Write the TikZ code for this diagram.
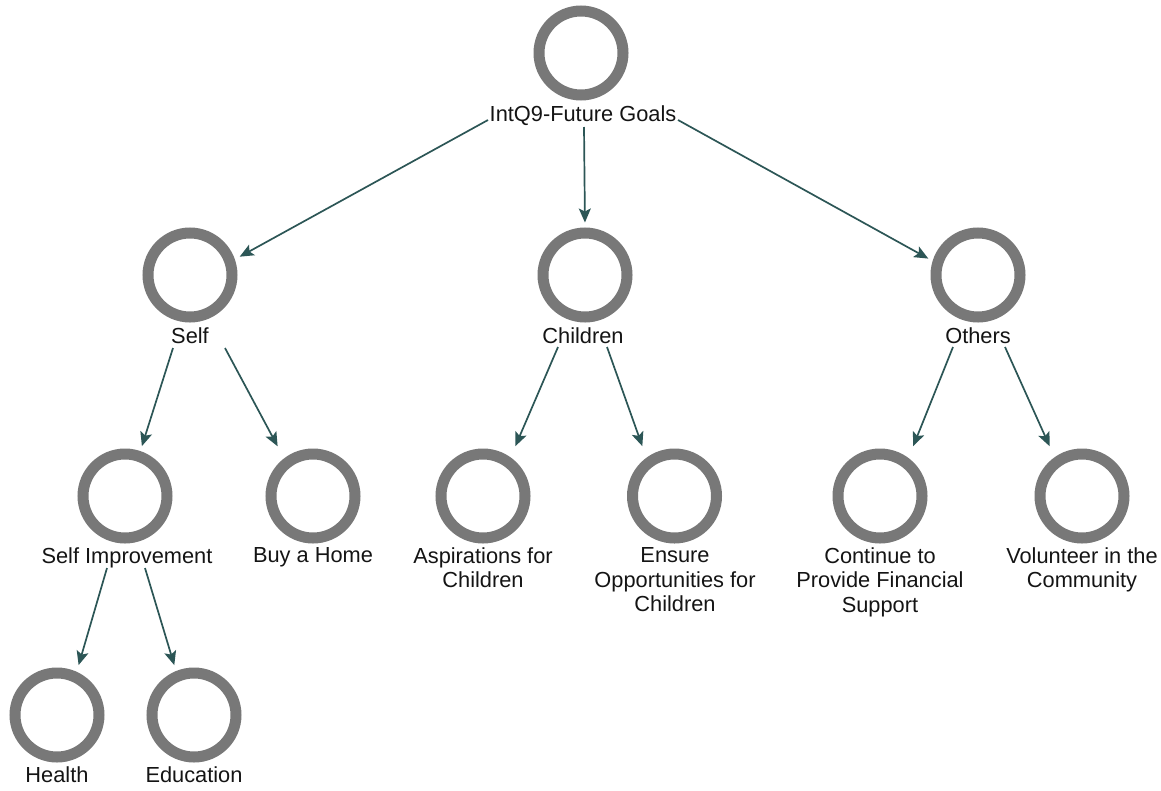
\documentclass[tikz,border=0pt]{standalone}
\usepackage{fontspec}
\setmainfont{Liberation Sans}
\usetikzlibrary{arrows.meta,calc}
\definecolor{ringgray}{RGB}{120,120,120}
\definecolor{edgeteal}{RGB}{44,86,86}
\definecolor{labelink}{RGB}{20,20,20}
\begin{document}
\begin{tikzpicture}[x=1pt,y=-1pt,
  goal/.style={rectangle,minimum size=95pt,inner sep=0pt,outer sep=0pt},
  ring/.style={draw=ringgray,line width=11pt},
  goallabel/.style={anchor=north,align=center,inner sep=0pt,outer sep=0pt,
    font=\fontsize{21.8}{24.5}\selectfont,text=labelink},
  link/.style={draw=edgeteal,line width=1.7pt,
    -{Stealth[length=14pt,width=12pt,inset=3pt]},shorten >=2.5pt}]
\useasboundingbox (0,0) rectangle (1161,790);

% goal boxes (the ring is drawn inside each box)
\node[goal] (root)     at (581,53)  {};
\node[goal] (self)     at (190,275) {};
\node[goal] (children) at (585,275) {};
\node[goal] (others)   at (978,275) {};
\node[goal] (selfimp)  at (125,496) {};
\node[goal] (buyhome)  at (313,496) {};
\node[goal] (aspire)   at (483,496) {};
\node[goal] (ensure)   at (674.5,496) {};
\node[goal] (support)  at (880,496) {};
\node[goal] (volunt)   at (1082,496) {};
\node[goal] (health)   at (57,715)  {};
\node[goal] (educ)     at (194,715) {};

\foreach \n in {root,self,children,others,selfimp,buyhome,aspire,ensure,support,volunt,health,educ}
  \draw[ring] (\n.center) circle[radius=42pt];

% labels
\node[goallabel] (root-t)     at (583,106) {IntQ9-Future Goals};
\node[goallabel] (self-t)     at (190,328) {Self};
\node[goallabel] (children-t) at (583,328) {Children};
\node[goallabel] (others-t)   at (978,328) {Others};
\node[goallabel] (selfimp-t)  at (127,547.5) {Self Improvement};
\node[goallabel] (buyhome-t)  at (313,547.5) {Buy a Home};
\node[goallabel] (aspire-t)   at (483,547.5) {Aspirations for\\Children};
\node[goallabel] (ensure-t)   at (675,547.5) {Ensure\\Opportunities for\\Children};
\node[goallabel] (support-t)  at (880,547.5) {Continue to\\Provide Financial\\Support};
\node[goallabel] (volunt-t)   at (1082,547.5) {Volunteer in the\\Community};
\node[goallabel] (health-t)   at (57,767) {Health};
\node[goallabel] (educ-t)     at (194,767) {Education};

% connector start points just below each parent label
\coordinate (root-l) at (488,120);
\coordinate (root-m) at (584,127);
\coordinate (root-r) at (678,120);
\coordinate (self-l) at (173,348);
\coordinate (self-r) at (225,348);
\coordinate (children-l) at (558,347);
\coordinate (children-r) at (607,347);
\coordinate (others-l) at (953,347);
\coordinate (others-r) at (1005,347);
\coordinate (selfimp-l) at (107,568);
\coordinate (selfimp-r) at (145,568);

% connectors
\draw[link] (root-l) -- ($(self.north east)!0.32!(self.south east)$);
\draw[link,shorten >=5pt] (root-m) -- (children.north);
\draw[link] (root-r) -- ($(others.north west)!0.34!(others.south west)$);

\draw[link] (self-l) -- ($(selfimp.north west)!0.67!(selfimp.north east)$);
\draw[link] (self-r) -- ($(buyhome.north west)!0.14!(buyhome.north east)$);
\draw[link] (children-l) -- ($(aspire.north west)!0.83!(aspire.north east)$);
\draw[link] (children-r) -- ($(ensure.north west)!0.17!(ensure.north east)$);
\draw[link] (others-l) -- ($(support.north west)!0.84!(support.north east)$);
\draw[link] (others-r) -- ($(volunt.north west)!0.17!(volunt.north east)$);

\draw[link] (selfimp-l) -- ($(health.north west)!0.72!(health.north east)$);
\draw[link] (selfimp-r) -- ($(educ.north west)!0.30!(educ.north east)$);
\end{tikzpicture}
\end{document}
